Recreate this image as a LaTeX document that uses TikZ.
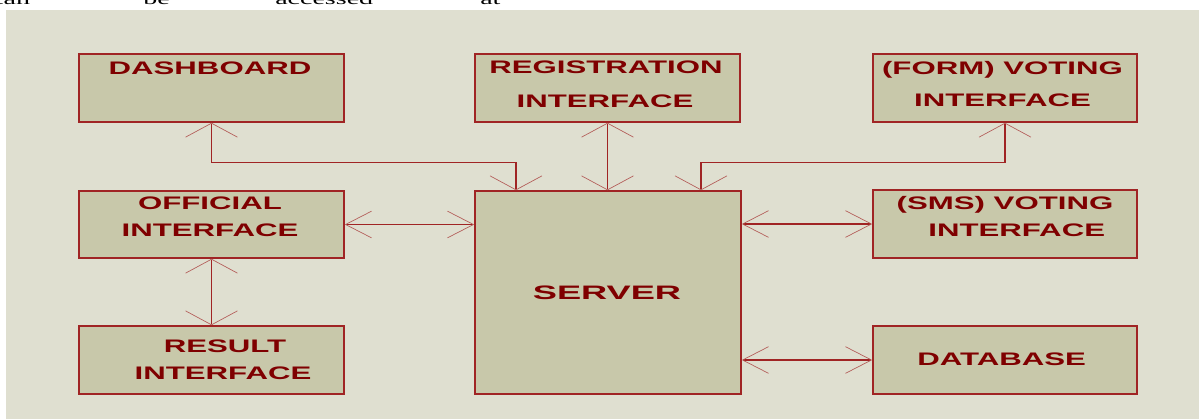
\documentclass[tikz,border=0pt]{standalone}
\usepackage{fontspec}
\usepackage{graphicx}
\setmainfont{Liberation Serif}
\newfontfamily\lblfont{Liberation Sans}
\usetikzlibrary{arrows.meta}
\definecolor{panel}{HTML}{DFDFD0}
\definecolor{boxfill}{HTML}{C8C8AA}
\definecolor{edge}{HTML}{A02424}
\definecolor{ink}{HTML}{7F0000}
\newcommand{\lbltext}[3][1.72]{\scalebox{#1}[1]{\lblfont\bfseries\fontsize{#2}{#2}\selectfont #3}}
\newcommand{\toptext}[1]{\scalebox{1.75}[1]{\fontsize{12}{14}\selectfont #1}}
\tikzset{
  box/.style={draw=edge, fill=boxfill, line width=1.2pt, inner sep=0pt},
  boxwh/.style 2 args={minimum width=#1*0.75pt, minimum height=#2*0.75pt},
  txt/.style={inner sep=0pt, text height=9.75pt, text depth=0pt, text=ink},
  vline/.style={draw=edge, line width=0.9pt,
    {Straight Barb[length=10.5pt,width=39pt,line width=0.5pt,color=edge!70!panel]}-{Straight Barb[length=10.5pt,width=39pt,line width=0.5pt,color=edge!70!panel]}},
  hline/.style={draw=edge, line width=0.9pt,
    {Straight Barb[length=19.5pt,width=20pt,line width=0.5pt,color=edge!70!panel]}-{Straight Barb[length=19.5pt,width=20pt,line width=0.5pt,color=edge!70!panel]}},
  topword/.style={anchor=base west, inner sep=0pt}
}
\begin{document}
\begin{tikzpicture}[x=0.75pt,y=-0.75pt]
\useasboundingbox (0,0) rectangle (1199,419);
\clip (0,0) rectangle (1199,419);
\fill[white] (0,0) rectangle (1199,419);
\fill[panel] (6,10) rectangle (1199,419);

% cut-off text line above the figure
\node[topword] (w1) at (-9,4.5) {\toptext{can}};
\node[topword] (w2) at (143,4.5) {\toptext{be}};
\node[topword] (w3) at (275,4.5) {\toptext{accessed}};
\node[topword] (w4) at (480,4.5) {\toptext{at}};

% boxes
\node[box, boxwh={265}{68}] (dash) at (211.5,88) {};
\node[box, boxwh={265}{68}] (reg) at (607.5,88) {};
\node[box, boxwh={264}{68}] (form) at (1005,88) {};
\node[box, boxwh={265}{67}] (off) at (211.5,224.5) {};
\node[box, boxwh={265}{68}] (res) at (211.5,360) {};
\node[box, boxwh={266}{203}] (server) at (608,292.5) {};
\node[box, boxwh={264}{68}] (sms) at (1005,224) {};
\node[box, boxwh={264}{68}] (db) at (1005,360) {};

% labels
\node[txt] (t1) at (210,67.5) {\lbltext{13.6}{DASHBOARD}};
\node[txt] (t2a) at (606,67) {\lbltext{13.6}{REGISTRATION}};
\node[txt] (t2b) at (605,100.5) {\lbltext{13.6}{INTERFACE}};
\node[txt] (t3a) at (1002.5,68) {\lbltext{13.6}{(FORM) VOTING}};
\node[txt] (t3b) at (1002.5,100) {\lbltext{13.6}{INTERFACE}};
\node[txt] (t4a) at (210,203) {\lbltext{13.6}{OFFICIAL}};
\node[txt] (t4b) at (210,229.5) {\lbltext{13.6}{INTERFACE}};
\node[txt] (t5a) at (225,346) {\lbltext{13.6}{RESULT}};
\node[txt] (t5b) at (223,372.7) {\lbltext{13.6}{INTERFACE}};
\node[txt] (t6a) at (1005,203) {\lbltext{13.6}{(SMS) VOTING}};
\node[txt] (t6b) at (1016.7,229.7) {\lbltext{13.6}{INTERFACE}};
\node[txt] (t7) at (1001.7,359) {\lbltext{13.6}{DATABASE}};
\node[txt, text height=10.5pt] (t8) at (607,292) {\lbltext[1.86]{14.6}{SERVER}};

% connectors
\draw[vline] (dash.south) |- ([xshift=-69pt,yshift=21pt]server.north) -- ([xshift=-69pt]server.north);
\draw[vline] (reg.south) -- (reg.south |- server.north);
\draw[vline] (form.south) |- ([xshift=69.75pt,yshift=21pt]server.north) -- ([xshift=69.75pt]server.north);
\draw[hline] (off.east) -- (off.east -| server.west);
\draw[hline] (sms.west -| server.east) -- (sms.west);
\draw[hline] (db.west -| server.east) -- (db.west);
\draw[vline] (off.south) -- (res.north);
\end{tikzpicture}
\end{document}
